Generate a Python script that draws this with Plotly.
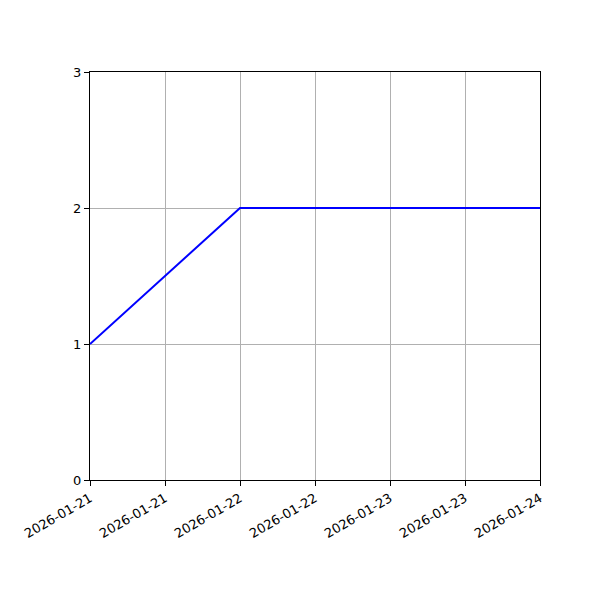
import plotly.graph_objects as go

dates = ["2026-01-21 00:00", "2026-01-22 00:00", "2026-01-24 00:00"]
values = [1, 2, 2]

tick_vals = ["2026-01-21 00:00", "2026-01-21 12:00", "2026-01-22 00:00", "2026-01-22 12:00",
             "2026-01-23 00:00", "2026-01-23 12:00", "2026-01-24 00:00"]
tick_text = ["2026-01-21", "2026-01-21", "2026-01-22", "2026-01-22",
             "2026-01-23", "2026-01-23", "2026-01-24"]
y_ticks = [0, 1, 2, 3]

fig = go.Figure()
fig.add_trace(go.Scatter(x=dates, y=values, mode="lines",
                         line=dict(color="blue", width=2), showlegend=False))

fig.update_xaxes(
    type="date", range=[dates[0], dates[-1]],
    tickvals=tick_vals, ticktext=tick_text, tickangle=-30,
    showgrid=True, gridcolor="#b0b0b0", gridwidth=1,
    showline=True, linecolor="black", linewidth=1, mirror=True,
    ticks="outside", ticklen=5, tickcolor="black", zeroline=False,
)
fig.update_yaxes(
    range=[0, 3], tickvals=y_ticks,
    showgrid=True, gridcolor="#b0b0b0", gridwidth=1,
    showline=True, linecolor="black", linewidth=1, mirror=True,
    ticks="outside", ticklen=5, tickcolor="black", zeroline=False,
)

fig.update_layout(
    width=600, height=600,
    margin=dict(l=82, r=68, t=64, b=128),
    plot_bgcolor="white", paper_bgcolor="white",
    font=dict(family="DejaVu Sans", size=13, color="black"),
)

fig.write_html("out.html")
